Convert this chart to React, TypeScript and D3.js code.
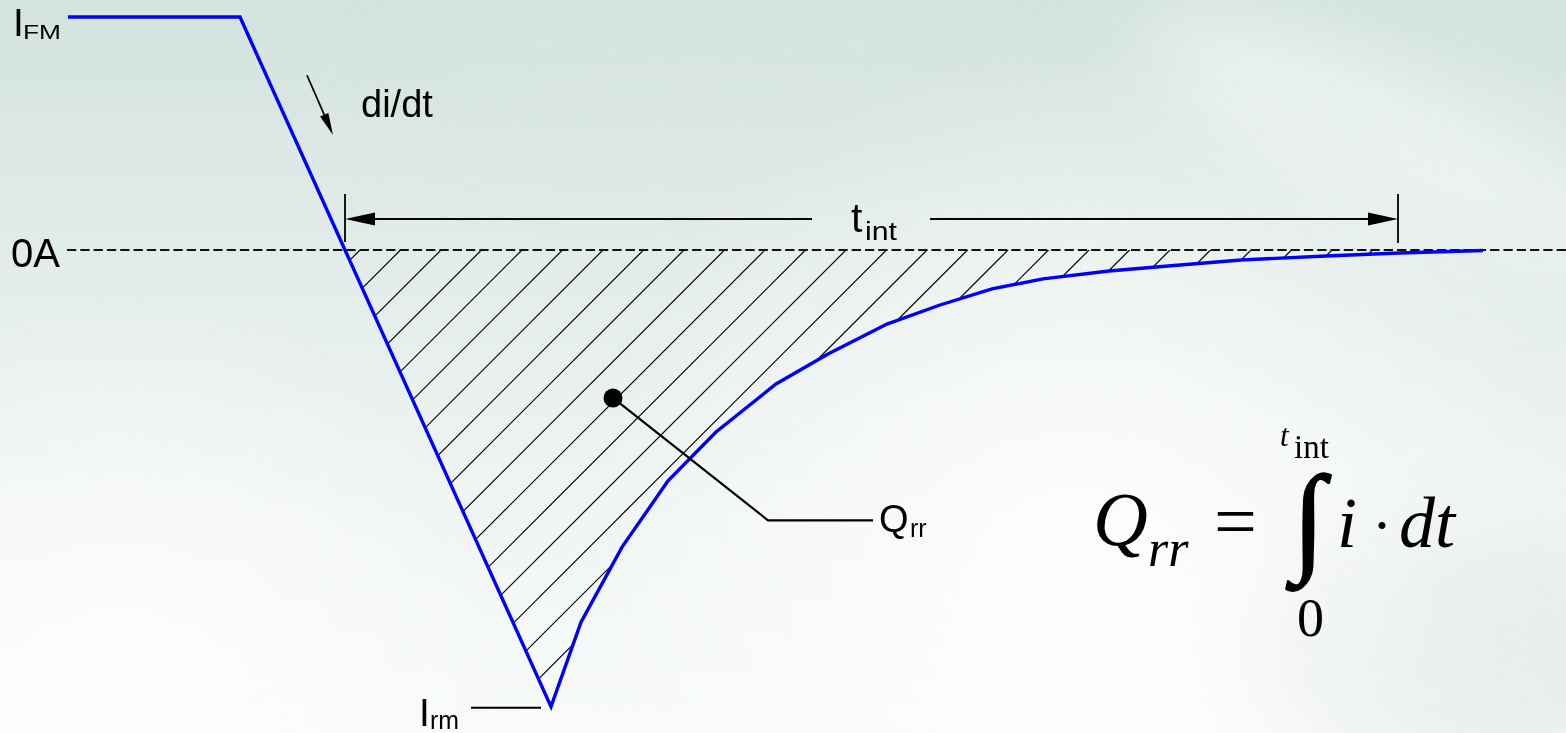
import React from "react";
import * as d3 from "d3";

const W = 1566;
const H = 733;

// Diode turn-off waveform: time in ns, current in A
const waveTime = [-27.7, -10.5, 0, 20.6, 23.6, 27.7, 32.3, 37.1, 43.1, 48.3, 54.2, 59.5, 64.7, 69.8, 76.4, 81.1, 89.6, 98.1, 105.4, 113.8];
const waveCurrent = [10, 10, 0, -19.6, -15.97, -12.75, -9.91, -7.81, -5.75, -4.46, -3.18, -2.36, -1.67, -1.24, -0.9, -0.73, -0.43, -0.26, -0.13, -0.02];

const forwardCurrent = 10; // I_FM
const reversePeak = -19.6; // I_rm
const tInt = 105.3; // integration window end

// Q_rr marker and its leader, in data units
const qrrMarker = [26.8, -6.35];
const qrrElbow = [42.3, -11.6];
const qrrEnd = 52.8;

// di/dt arrow, in data units
const didtFrom = [-3.8, 7.5];
const didtTo = [-1.2, 4.94];

const x = d3.scaleLinear().domain([0, 100]).range([345, 1345]);
const y = d3.scaleLinear().domain([0, 10]).range([250, 17]);

const wave = waveTime.map((t, i) => ({ t, c: waveCurrent[i] }));
const negative = wave.filter((d) => d.t >= 0);

const lineGen = d3
  .line<{ t: number; c: number }>()
  .x((d) => x(d.t))
  .y((d) => y(d.c));

const areaGen = d3
  .area<{ t: number; c: number }>()
  .x((d) => x(d.t))
  .y0(() => y(0))
  .y1((d) => y(d.c));

// 45° hatch lines through the charge area
const hatchStep = 4.05;
const hatchStarts = d3.range(1.5, 116, hatchStep);

function arrowHead(tipX: number, tipY: number, dx: number, dy: number, len: number, half: number) {
  const n = Math.hypot(dx, dy);
  const ux = dx / n;
  const uy = dy / n;
  const bx = tipX - ux * len;
  const by = tipY - uy * len;
  return `${tipX},${tipY} ${bx - uy * half},${by + ux * half} ${bx + uy * half},${by - ux * half}`;
}

export default function App() {
  const y0 = y(0);
  const xEnd = x(tInt);
  const x0 = x(0);
  const dimY = 219;
  const sans = "'Liberation Sans', Arial, sans-serif";
  const serif = "'Liberation Serif', 'Times New Roman', serif";

  const dFrom = [x(didtFrom[0]), y(didtFrom[1])];
  const dTo = [x(didtTo[0]), y(didtTo[1])];

  const mX = x(qrrMarker[0]);
  const mY = y(qrrMarker[1]);
  const eX = x(qrrElbow[0]);
  const eY = y(qrrElbow[1]);
  const lEnd = x(qrrEnd);

  const peakX = x(waveTime[3]);
  const peakY = y(reversePeak);
  const topY = y(forwardCurrent);

  return (
    <svg
      width={W}
      height={H}
      viewBox={`0 0 ${W} ${H}`}
      style={{ position: "absolute", left: 0, top: 0, display: "block" }}
    >
      <defs>
        <linearGradient id="bg" x1="0" y1="0" x2="0" y2="1">
          <stop offset="0" stopColor="#d3e3de" />
          <stop offset="0.35" stopColor="#e2ece9" />
          <stop offset="0.7" stopColor="#f0f5f3" />
          <stop offset="1" stopColor="#f8fbfa" />
        </linearGradient>
        <radialGradient id="glow" cx="1080" cy="560" r="520" gradientUnits="userSpaceOnUse">
          <stop offset="0" stopColor="#ffffff" stopOpacity="0.85" />
          <stop offset="1" stopColor="#ffffff" stopOpacity="0" />
        </radialGradient>
        <radialGradient id="glow2" cx="120" cy="700" r="420" gradientUnits="userSpaceOnUse">
          <stop offset="0" stopColor="#ffffff" stopOpacity="0.8" />
          <stop offset="1" stopColor="#ffffff" stopOpacity="0" />
        </radialGradient>
        <filter id="soft" x="-50%" y="-50%" width="200%" height="200%">
          <feGaussianBlur stdDeviation="40" />
        </filter>
        <clipPath id="chargeClip">
          <path d={areaGen(negative) || ""} />
        </clipPath>
      </defs>

      {/* background */}
      <rect x={0} y={0} width={W} height={H} fill="url(#bg)" />
      <g filter="url(#soft)">
        <ellipse cx={1380} cy={140} rx={260} ry={70} fill="#f2f7f5" opacity={0.7} transform="rotate(25 1380 140)" />
        <ellipse cx={1450} cy={650} rx={200} ry={120} fill="#dfe7e4" opacity={0.7} />
        <ellipse cx={700} cy={90} rx={300} ry={60} fill="#d8e6e2" opacity={0.6} />
      </g>
      <rect x={0} y={0} width={W} height={H} fill="url(#glow)" />
      <rect x={0} y={0} width={W} height={H} fill="url(#glow2)" />

      {/* hatched charge area */}
      <g clipPath="url(#chargeClip)">
        {hatchStarts.map((t, i) => {
          const sx = x(t);
          return (
            <line
              key={i}
              x1={sx + 10}
              y1={y0 - 10}
              x2={sx - 520}
              y2={y0 + 520}
              stroke="#000"
              strokeWidth={1.2}
            />
          );
        })}
      </g>

      {/* zero line */}
      <line x1={67} y1={y0} x2={W} y2={y0} stroke="#111" strokeWidth={2.2} strokeDasharray="9.3 4" />

      {/* current waveform */}
      <path d={lineGen(wave) || ""} fill="none" stroke="#0000ff" strokeWidth={3.4} strokeLinejoin="miter" />

      {/* t_int dimension */}
      <line x1={x0} y1={194} x2={x0} y2={242} stroke="#000" strokeWidth={1.8} />
      <line x1={xEnd} y1={194} x2={xEnd} y2={243} stroke="#000" strokeWidth={1.8} />
      <line x1={x0 + 20} y1={dimY} x2={812} y2={dimY} stroke="#000" strokeWidth={2} />
      <line x1={930} y1={dimY} x2={xEnd - 20} y2={dimY} stroke="#000" strokeWidth={2} />
      <polygon points={arrowHead(x0, dimY, -1, 0, 30, 6.5)} fill="#000" />
      <polygon points={arrowHead(xEnd, dimY, 1, 0, 30, 6.5)} fill="#000" />
      <text x={851} y={232} fontFamily={sans} fontSize={41} fill="#000">t</text>
      <text x={865} y={240} fontFamily={sans} fontSize={26} fill="#000" textLength={32} lengthAdjust="spacingAndGlyphs">int</text>

      {/* di/dt arrow */}
      <line
        x1={dFrom[0]}
        y1={dFrom[1]}
        x2={dFrom[0] + (dTo[0] - dFrom[0]) * 0.8}
        y2={dFrom[1] + (dTo[1] - dFrom[1]) * 0.8}
        stroke="#000"
        strokeWidth={1.8}
      />
      <polygon points={arrowHead(dTo[0], dTo[1], dTo[0] - dFrom[0], dTo[1] - dFrom[1], 22, 4.5)} fill="#000" />
      <text x={361} y={117} fontFamily={sans} fontSize={38} fill="#000">di/dt</text>

      {/* level labels */}
      <text x={13} y={topY + 19} fontFamily={sans} fontSize={39} fill="#000">I</text>
      <text x={23} y={topY + 22} fontFamily={sans} fontSize={21} fill="#000" textLength={38} lengthAdjust="spacingAndGlyphs">FM</text>
      <text x={11} y={y0 + 17} fontFamily={sans} fontSize={40} fill="#000">0A</text>

      <line x1={471} y1={peakY + 1} x2={peakX - 10} y2={peakY + 1} stroke="#000" strokeWidth={2} />
      <text x={419} y={726} fontFamily={sans} fontSize={39} fill="#000">I</text>
      <text x={430} y={729} fontFamily={sans} fontSize={25} fill="#000" textLength={29} lengthAdjust="spacingAndGlyphs">rm</text>

      {/* Q_rr callout */}
      <polyline points={`${mX},${mY} ${eX},${eY} ${lEnd},${eY}`} fill="none" stroke="#000" strokeWidth={2.2} />
      <circle cx={mX} cy={mY} r={9.5} fill="#000" />
      <text x={879} y={532} fontFamily={sans} fontSize={38} fill="#000">Q</text>
      <text x={910} y={537} fontFamily={sans} fontSize={25} fill="#000">rr</text>

      {/* charge integral */}
      <g fill="#000" fontFamily={serif}>
        <text x={1093} y={545} fontSize={76} fontStyle="italic">Q</text>
        <text x={1148} y={566} fontSize={52} fontStyle="italic">rr</text>
        <text x={1214} y={547} fontSize={76}>=</text>
        <text x={1292} y={559} fontSize={120} stroke="#000" strokeWidth={1.6}>∫</text>
        <text x={1280} y={446} fontSize={31} fontStyle="italic">t</text>
        <text x={1294} y={458} fontSize={33}>int</text>
        <text x={1297} y={636} fontSize={54}>0</text>
        <text x={1337} y={547} fontSize={72} fontStyle="italic">i</text>
        <text x={1372} y={545} fontSize={60}>·</text>
        <text x={1399} y={547} fontSize={72} fontStyle="italic">dt</text>
      </g>
    </svg>
  );
}
